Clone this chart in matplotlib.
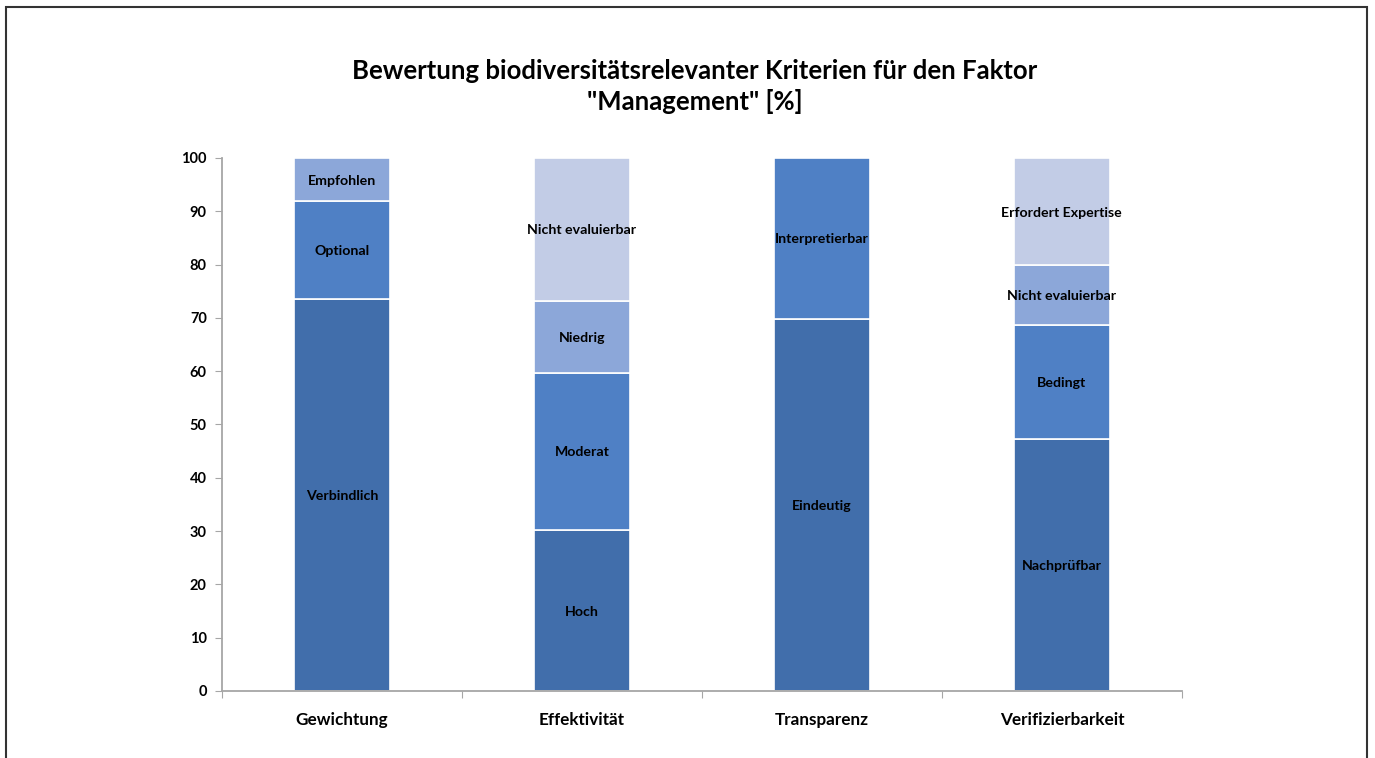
import matplotlib.pyplot as plt
from matplotlib.patches import Rectangle
import numpy as np

categories = ['Gewichtung', 'Effektivität', 'Transparenz', 'Verifizierbarkeit']
# stacked segments per category, bottom to top
segments = [
    [('Verbindlich', 73.5), ('Optional', 18.4), ('Empfohlen', 8.1)],
    [('Hoch', 30.2), ('Moderat', 29.5), ('Niedrig', 13.5), ('Nicht evaluierbar', 26.8)],
    [('Eindeutig', 69.8), ('Interpretierbar', 30.2)],
    [('Nachprüfbar', 47.3), ('Bedingt', 21.4), ('Nicht evaluierbar', 11.2), ('Erfordert Expertise', 20.1)],
]
yticks = [0, 10, 20, 30, 40, 50, 60, 70, 80, 90, 100]
title = 'Bewertung biodiversitätsrelevanter Kriterien für den Faktor\n"Management" [%]'

colors = ['#416EAB', '#4F80C5', '#8CA7D9', '#C2CCE6']
axis_col = '#A6A6A6'

plt.rcParams['font.family'] = ['Lato', 'DejaVu Sans']
plt.rcParams['font.weight'] = 'bold'

fig = plt.figure(figsize=(13.75, 7.58), dpi=100)
ax = fig.add_axes([0.1615, 0.0884, 0.698, 0.7032])

x = np.arange(len(categories))
for i, segs in enumerate(segments):
    bottom = 0
    for j, (lab, val) in enumerate(segs):
        ax.bar(x[i], val, bottom=bottom, width=0.4, color=colors[j],
               edgecolor='white', linewidth=1.2)
        ax.text(x[i], bottom + val / 2, lab, ha='center', va='center_baseline',
                fontsize=10.2, fontweight='bold', color='black')
        bottom += val

ax.set_xlim(-0.5, len(categories) - 0.5)
ax.set_ylim(0, 100)
ax.set_yticks(yticks)
ax.set_yticklabels([str(t) for t in yticks], fontsize=10.5, fontweight='bold')

# category boundary ticks (major) and labels at centres (minor)
ax.set_xticks(np.arange(-0.5, len(categories), 1.0))
ax.set_xticklabels([])
ax.set_xticks(x, minor=True)
ax.set_xticklabels(categories, minor=True, fontsize=12.3, fontweight='bold')
ax.tick_params(axis='x', which='major', length=5, color=axis_col, direction='out')
ax.tick_params(axis='x', which='minor', length=0, pad=15)
ax.tick_params(axis='y', length=5, color=axis_col, direction='out', pad=6)

for s in ['top', 'right']:
    ax.spines[s].set_visible(False)
for s in ['left', 'bottom']:
    ax.spines[s].set_color(axis_col)
    ax.spines[s].set_linewidth(1.3)

fig.text(0.5055, 0.886, title, ha='center', va='center', fontsize=18.5,
         fontweight='bold', linespacing=1.3)

# outer frame (bottom edge off-image)
fig.patches.append(Rectangle((0.0044, -0.02), 0.9898, 0.9908 + 0.02,
                             transform=fig.transFigure, fill=False,
                             edgecolor='#333333', linewidth=1.5))

fig.savefig('out.png', dpi=100)
